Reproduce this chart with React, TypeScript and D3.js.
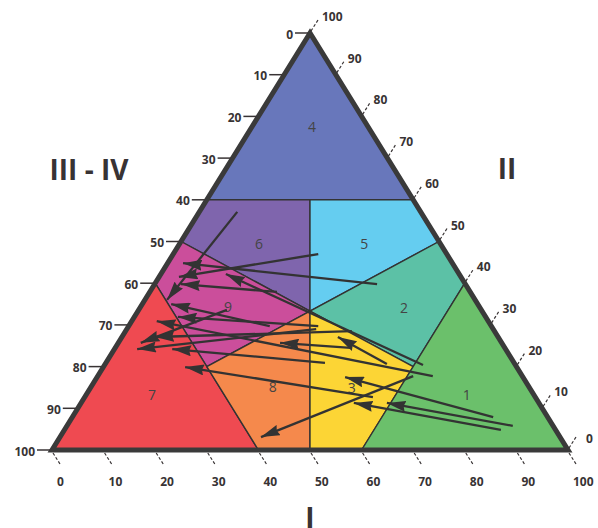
import React, { useEffect, useRef } from "react";
import * as d3 from "d3";

// axis tick values
const bottomTicks = [0, 10, 20, 30, 40, 50, 60, 70, 80, 90, 100];
const leftTicks = [0, 10, 20, 30, 40, 50, 60, 70, 80, 90, 100];
const rightTicks = [100, 90, 80, 70, 60, 50, 40, 30, 20, 10, 0];

// fields: points are [I, III-IV]
const regionNames = ["4", "6", "5", "9", "2", "7", "8", "3", "1"];
const regionColors = ["#6877bb", "#7f65ad", "#65cdf0", "#cb4e9b", "#5cc1a6", "#ef4a51", "#f5894c", "#fcd535", "#6bc06b"];
const regionPolys: [number, number][][] = [
  [[50, 0], [30, 40], [70, 40]],
  [[30, 40], [50, 40], [50, 66.7], [25, 50]],
  [[50, 40], [70, 40], [75, 50], [50, 66.7]],
  [[25, 50], [50, 66.7], [30, 80], [20, 60]],
  [[50, 66.7], [75, 50], [80, 60], [70, 80]],
  [[20, 60], [0, 100], [40, 100]],
  [[50, 66.7], [50, 100], [40, 100], [30, 80]],
  [[50, 66.7], [70, 80], [60, 100], [50, 100]],
  [[80, 60], [100, 100], [60, 100]],
];
const regionLabelPos: [number, number][] = [
  [50.4, 22.5], [40.1, 50.4], [60.5, 50.4], [34.1, 65.7], [68.2, 65.9],
  [19.4, 86.8], [42.8, 84.7], [58.1, 84.9], [80.4, 86.8],
];

// arrows, tail -> head
const arrowTails: [number, number][] = [
  [35.9, 42.9], [51.6, 53.0], [63.0, 60.2], [43.6, 62.1], [71.9, 79.6],
  [42.2, 70.3], [51.6, 70.3], [33.9, 66.4], [73.8, 82.3], [58.1, 71.5],
  [51.2, 71.0], [52.9, 79.1], [62.2, 87.3], [64.9, 79.4], [57.9, 75.5],
  [70.0, 82.3], [85.5, 92.1], [89.3, 94.2], [87.0, 95.2],
];
const arrowHeads: [number, number][] = [
  [22.3, 64.0], [24.6, 58.5], [25.4, 55.2], [25.0, 60.2], [33.7, 57.8],
  [23.1, 65.0], [24.4, 68.1], [17.2, 74.3], [20.3, 69.1], [20.0, 72.9],
  [16.5, 75.8], [23.3, 75.8], [25.8, 80.1], [55.4, 72.9], [44.2, 74.3],
  [40.5, 96.9], [56.8, 82.5], [64.9, 88.7], [58.5, 88.7],
];

const ink = "#383334";
const font = "'Open Sans', 'DejaVu Sans', sans-serif";

export default function App() {
  const ref = useRef<SVGSVGElement>(null);

  useEffect(() => {
    const svg = d3.select(ref.current);
    svg.selectAll("*").remove();

    const x = d3.scaleLinear().domain([0, 100]).range([52, 568]);
    const y = d3.scaleLinear().domain([0, 100]).range([33, 450]);
    const line = d3
      .line<[number, number]>()
      .x((d) => x(d[0]))
      .y((d) => y(d[1]));

    svg
      .append("defs")
      .append("marker")
      .attr("id", "head")
      .attr("viewBox", "0 0 19 11")
      .attr("refX", 19)
      .attr("refY", 5.5)
      .attr("markerWidth", 19)
      .attr("markerHeight", 11)
      .attr("markerUnits", "userSpaceOnUse")
      .attr("orient", "auto")
      .append("path")
      .attr("d", "M0,0 L19,5.5 L0,11 L2,5.5 Z")
      .attr("fill", "#333");

    // fields
    svg
      .append("g")
      .selectAll("path")
      .data(regionPolys)
      .join("path")
      .attr("d", (d) => line(d) + "Z")
      .attr("fill", (d, i) => regionColors[i])
      .attr("stroke", "#333")
      .attr("stroke-width", 1.4)
      .attr("stroke-linejoin", "round");

    svg
      .append("g")
      .selectAll("text")
      .data(regionNames)
      .join("text")
      .attr("x", (d, i) => x(regionLabelPos[i][0]))
      .attr("y", (d, i) => y(regionLabelPos[i][1]))
      .attr("text-anchor", "middle")
      .attr("dominant-baseline", "central")
      .attr("font-family", font)
      .attr("font-size", 14)
      .attr("fill", "#444")
      .text((d) => d);

    // arrows
    svg
      .append("g")
      .selectAll("line")
      .data(arrowTails)
      .join("line")
      .attr("x1", (d) => x(d[0]))
      .attr("y1", (d) => y(d[1]))
      .attr("x2", (d, i) => x(arrowHeads[i][0]))
      .attr("y2", (d, i) => y(arrowHeads[i][1]))
      .attr("stroke", "#333")
      .attr("stroke-width", 2.3)
      .attr("marker-end", "url(#head)");

    // outer triangle
    svg
      .append("path")
      .attr("d", line([[50, 0], [0, 100], [100, 100]]) + "Z")
      .attr("fill", "none")
      .attr("stroke", "#3a3a3a")
      .attr("stroke-width", 5)
      .attr("stroke-linejoin", "miter");

    const labelStyle = (s: any) =>
      s
        .attr("font-family", font)
        .attr("font-size", 12)
        .attr("font-weight", 700)
        .attr("fill", ink);

    // left axis (III - IV)
    const left = svg.append("g");
    leftTicks.forEach((t) => {
      const ex = x(50 - t / 2);
      const ey = y(t);
      left
        .append("line")
        .attr("x1", ex - 15)
        .attr("x2", ex - 2)
        .attr("y1", ey)
        .attr("y2", ey)
        .attr("stroke", ink)
        .attr("stroke-width", 1.5);
      left
        .append("text")
        .attr("x", ex - 17)
        .attr("y", ey + 1)
        .attr("text-anchor", "end")
        .attr("dominant-baseline", "central")
        .call(labelStyle)
        .text(t);
    });

    // right axis (II)
    const right = svg.append("g");
    rightTicks.forEach((t) => {
      const v = 100 - t;
      const ex = x(50 + v / 2);
      const ey = y(v);
      right
        .append("line")
        .attr("x1", ex + 1)
        .attr("y1", ey - 2)
        .attr("x2", ex + 8)
        .attr("y2", ey - 13)
        .attr("stroke", ink)
        .attr("stroke-width", 1.2)
        .attr("stroke-dasharray", "3,2");
      right
        .append("text")
        .attr("x", ex + (t === 0 ? 18 : 12))
        .attr("y", ey - (t === 0 ? 7 : 12))
        .call(labelStyle)
        .text(t);
    });

    // bottom axis (I)
    const bottom = svg.append("g");
    bottomTicks.forEach((t) => {
      const ex = x(t);
      const ey = y(100);
      bottom
        .append("line")
        .attr("x1", ex + 1)
        .attr("y1", ey + 3)
        .attr("x2", ex + 8)
        .attr("y2", ey + 14)
        .attr("stroke", ink)
        .attr("stroke-width", 1.2)
        .attr("stroke-dasharray", "3,2");
      bottom
        .append("text")
        .attr("x", ex + 5)
        .attr("y", 486)
        .call(labelStyle)
        .text(t);
    });

    // axis titles
    const titles: [string, number, number][] = [
      ["III - IV", 89, 180],
      ["II", 507, 179],
      ["I", 310, 528],
    ];
    svg
      .append("g")
      .selectAll("text")
      .data(titles)
      .join("text")
      .attr("x", (d) => d[1])
      .attr("y", (d) => d[2])
      .attr("text-anchor", "middle")
      .attr("font-family", font)
      .attr("font-size", 28)
      .attr("font-weight", 700)
      .attr("fill", ink)
      .text((d) => d[0]);
  }, []);

  return (
    <svg
      ref={ref}
      width={598}
      height={528}
      style={{ position: "absolute", left: 0, top: 0, background: "#fff" }}
    />
  );
}
